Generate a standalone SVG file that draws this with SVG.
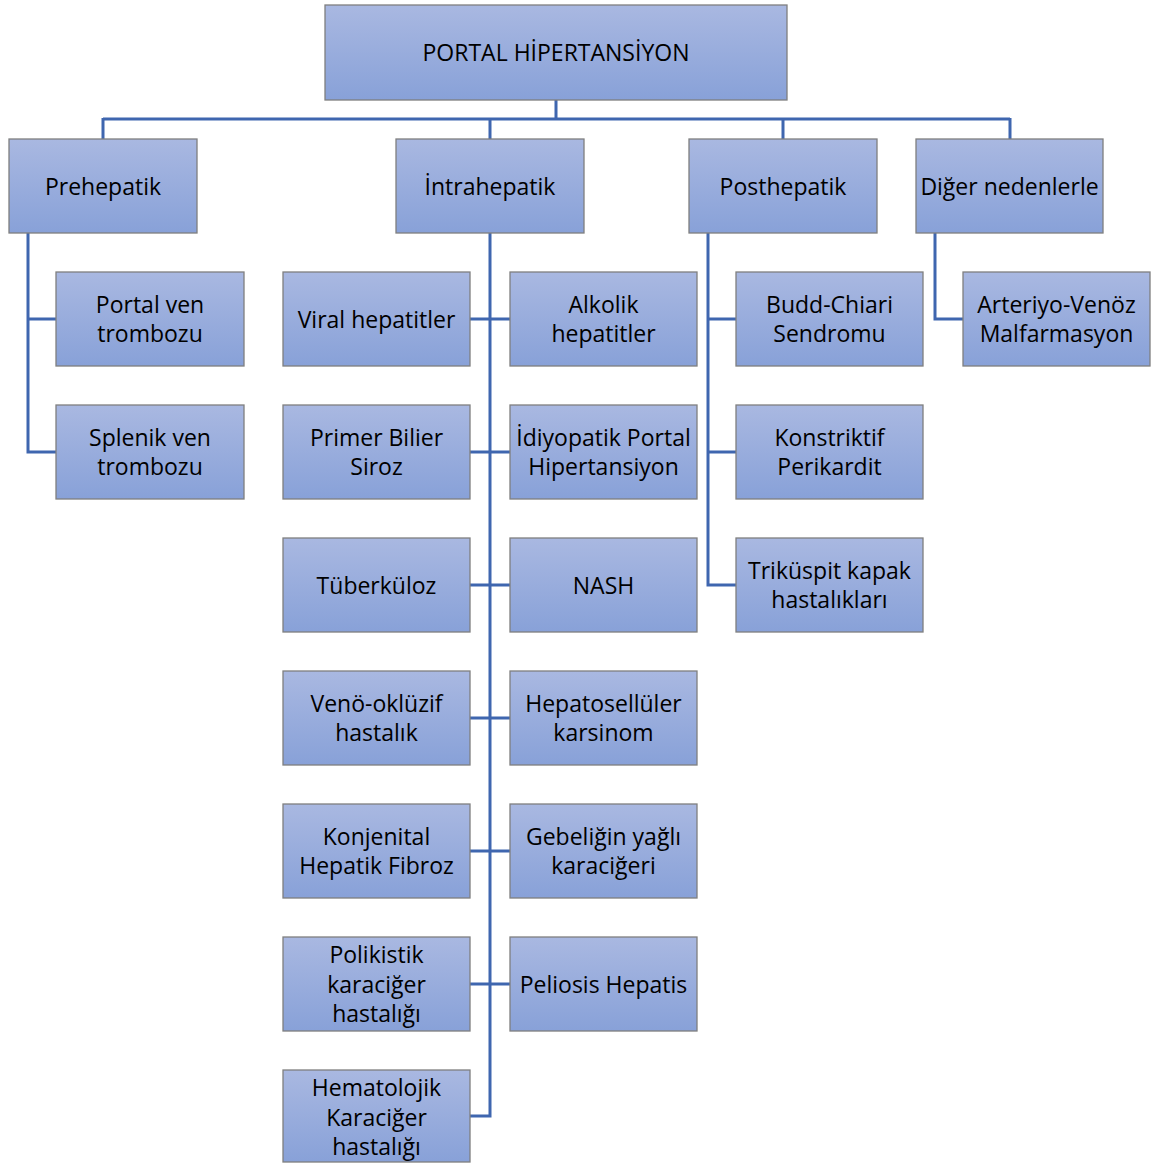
<svg xmlns="http://www.w3.org/2000/svg" width="1153" height="1163" viewBox="0 0 1153 1163">
<defs>
<linearGradient id="g" x1="0" y1="0" x2="0" y2="1">
<stop offset="0" stop-color="#a9b8e1"/>
<stop offset="1" stop-color="#88a1d8"/>
</linearGradient>
<style>
.b{fill:url(#g);stroke:#7f7f7f;stroke-width:1.3}
.t{font-family:"Open Sans","Liberation Sans",sans-serif;font-size:23px;fill:#000;text-anchor:middle;dominant-baseline:central}
.c{fill:none;stroke:#3f66af;stroke-width:3}
</style>
</defs>
<rect width="1153" height="1163" fill="#fff"/>
<g id="connectors" class="c">
<path d="M556 100V119M103 119H1010M103 118V139M490 118V139M783 118V139M1010 118V139"/>
<path d="M28 233V452M26.5 319H56M26.5 452H56"/>
<path d="M490 233V1117.5M470 319H510M470 452H510M470 585H510M470 718H510M470 851H510M470 984H510M470 1116H491.5"/>
<path d="M708 233V586.5M706.5 319H736M706.5 452H736M706.5 585H736"/>
<path d="M935 233V320.5M933.5 319H963"/>
</g>
<g id="n0"><rect class="b" x="325" y="5" width="462" height="95"/><text class="t" x="556" y="52">PORTAL HİPERTANSİYON</text></g>
<g id="n1"><rect class="b" x="9" y="139" width="188" height="94"/><text class="t" x="103" y="186">Prehepatik</text></g>
<g id="n2"><rect class="b" x="396" y="139" width="188" height="94"/><text class="t" x="490" y="186">İntrahepatik</text></g>
<g id="n3"><rect class="b" x="689" y="139" width="188" height="94"/><text class="t" x="783" y="186">Posthepatik</text></g>
<g id="n4"><rect class="b" x="916" y="139" width="187" height="94"/><text class="t" x="1009.5" y="186">Diğer nedenlerle</text></g>
<g id="n5"><rect class="b" x="56" y="272" width="188" height="94"/><text class="t" x="150" y="304">Portal ven</text><text class="t" x="150" y="333">trombozu</text></g>
<g id="n6"><rect class="b" x="56" y="405" width="188" height="94"/><text class="t" x="150" y="437">Splenik ven</text><text class="t" x="150" y="466">trombozu</text></g>
<g id="n7"><rect class="b" x="283" y="272" width="187" height="94"/><text class="t" x="376.5" y="319">Viral hepatitler</text></g>
<g id="n8"><rect class="b" x="510" y="272" width="187" height="94"/><text class="t" x="603.5" y="304">Alkolik</text><text class="t" x="603.5" y="333">hepatitler</text></g>
<g id="n9"><rect class="b" x="283" y="405" width="187" height="94"/><text class="t" x="376.5" y="437">Primer Bilier</text><text class="t" x="376.5" y="466">Siroz</text></g>
<g id="n10"><rect class="b" x="510" y="405" width="187" height="94"/><text class="t" x="603.5" y="437">İdiyopatik Portal</text><text class="t" x="603.5" y="466">Hipertansiyon</text></g>
<g id="n11"><rect class="b" x="283" y="538" width="187" height="94"/><text class="t" x="376.5" y="585">Tüberküloz</text></g>
<g id="n12"><rect class="b" x="510" y="538" width="187" height="94"/><text class="t" x="603.5" y="585">NASH</text></g>
<g id="n13"><rect class="b" x="283" y="671" width="187" height="94"/><text class="t" x="376.5" y="703">Venö-oklüzif</text><text class="t" x="376.5" y="732">hastalık</text></g>
<g id="n14"><rect class="b" x="510" y="671" width="187" height="94"/><text class="t" x="603.5" y="703">Hepatosellüler</text><text class="t" x="603.5" y="732">karsinom</text></g>
<g id="n15"><rect class="b" x="283" y="804" width="187" height="94"/><text class="t" x="376.5" y="836">Konjenital</text><text class="t" x="376.5" y="865">Hepatik Fibroz</text></g>
<g id="n16"><rect class="b" x="510" y="804" width="187" height="94"/><text class="t" x="603.5" y="836">Gebeliğin yağlı</text><text class="t" x="603.5" y="865">karaciğeri</text></g>
<g id="n17"><rect class="b" x="283" y="937" width="187" height="94"/><text class="t" x="376.5" y="954">Polikistik</text><text class="t" x="376.5" y="984">karaciğer</text><text class="t" x="376.5" y="1013">hastalığı</text></g>
<g id="n18"><rect class="b" x="510" y="937" width="187" height="94"/><text class="t" x="603.5" y="984">Peliosis Hepatis</text></g>
<g id="n19"><rect class="b" x="283" y="1070" width="187" height="92"/><text class="t" x="376.5" y="1087">Hematolojik</text><text class="t" x="376.5" y="1117">Karaciğer</text><text class="t" x="376.5" y="1146">hastalığı</text></g>
<g id="n20"><rect class="b" x="736" y="272" width="187" height="94"/><text class="t" x="829.5" y="304">Budd-Chiari</text><text class="t" x="829.5" y="333">Sendromu</text></g>
<g id="n21"><rect class="b" x="736" y="405" width="187" height="94"/><text class="t" x="829.5" y="437">Konstriktif</text><text class="t" x="829.5" y="466">Perikardit</text></g>
<g id="n22"><rect class="b" x="736" y="538" width="187" height="94"/><text class="t" x="829.5" y="570">Triküspit kapak</text><text class="t" x="829.5" y="599">hastalıkları</text></g>
<g id="n23"><rect class="b" x="963" y="272" width="187" height="94"/><text class="t" x="1056.5" y="304">Arteriyo-Venöz</text><text class="t" x="1056.5" y="333">Malfarmasyon</text></g>
</svg>
